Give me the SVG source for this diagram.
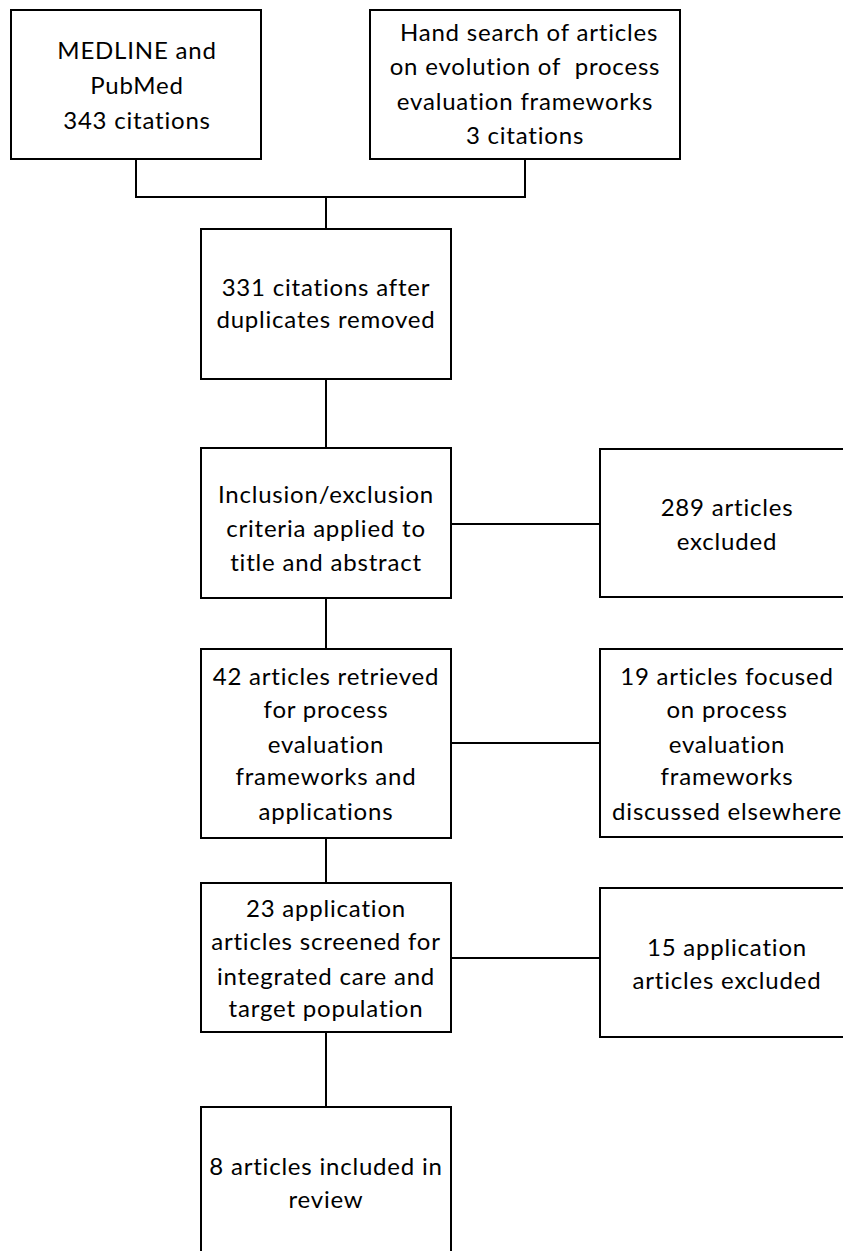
<svg xmlns="http://www.w3.org/2000/svg" width="843" height="1251" viewBox="0 0 843 1251">
<style>
rect.box{fill:#ffffff;stroke:#000000;stroke-width:2}
.conn{fill:none;stroke:#000000;stroke-width:2}
text{font-family:Lato,"Open Sans","Liberation Sans",sans-serif;font-size:24px;letter-spacing:0.8px;fill:#000000;text-anchor:middle}
.pre{white-space:pre}
</style>
<rect width="843" height="1251" fill="#ffffff"/>
<g id="connectors">
<path class="conn" d="M136 159 V197 H525 V159"/>
<path class="conn" d="M326 197 V229"/>
<path class="conn" d="M326 379 V448"/>
<path class="conn" d="M326 598 V649"/>
<path class="conn" d="M451 524 H600"/>
<path class="conn" d="M326 838 V883"/>
<path class="conn" d="M451 743 H600"/>
<path class="conn" d="M326 1032 V1107"/>
<path class="conn" d="M451 958 H600"/>
</g>
<g id="n1">
<rect class="box" x="11" y="10" width="250" height="149"/>
<text x="137" y="59">MEDLINE and</text>
<text x="137" y="94">PubMed</text>
<text x="137" y="129">343 citations</text>
</g>
<g id="n2">
<rect class="box" x="370" y="10" width="310" height="149"/>
<text x="529" y="41">Hand search of articles</text>
<text x="525" y="75" class="pre">on evolution of  process</text>
<text x="525" y="110">evaluation frameworks</text>
<text x="525" y="144">3 citations</text>
</g>
<g id="n3">
<rect class="box" x="201" y="229" width="250" height="150"/>
<text x="326" y="296">331 citations after</text>
<text x="326" y="328">duplicates removed</text>
</g>
<g id="n4">
<rect class="box" x="201" y="448" width="250" height="150"/>
<text x="326" y="503">Inclusion/exclusion</text>
<text x="326" y="537">criteria applied to</text>
<text x="326" y="571">title and abstract</text>
</g>
<g id="n5">
<rect class="box" x="600" y="449" width="253" height="148"/>
<text x="727" y="516">289 articles</text>
<text x="727" y="550">excluded</text>
</g>
<g id="n6">
<rect class="box" x="201" y="649" width="250" height="189"/>
<text x="326" y="685">42 articles retrieved</text>
<text x="326" y="718">for process</text>
<text x="326" y="753">evaluation</text>
<text x="326" y="785">frameworks and</text>
<text x="326" y="820">applications</text>
</g>
<g id="n7">
<rect class="box" x="600" y="649" width="253" height="188"/>
<text x="727" y="685">19 articles focused</text>
<text x="727" y="718">on process</text>
<text x="727" y="753">evaluation</text>
<text x="727" y="785">frameworks</text>
<text x="727" y="820">discussed elsewhere</text>
</g>
<g id="n8">
<rect class="box" x="201" y="883" width="250" height="149"/>
<text x="326" y="917">23 application</text>
<text x="326" y="950">articles screened for</text>
<text x="326" y="985">integrated care and</text>
<text x="326" y="1017">target population</text>
</g>
<g id="n9">
<rect class="box" x="600" y="888" width="253" height="149"/>
<text x="727" y="956">15 application</text>
<text x="727" y="989">articles excluded</text>
</g>
<g id="n10">
<rect class="box" x="201" y="1107" width="250" height="150"/>
<text x="326" y="1175">8 articles included in</text>
<text x="326" y="1208">review</text>
</g>
</svg>
